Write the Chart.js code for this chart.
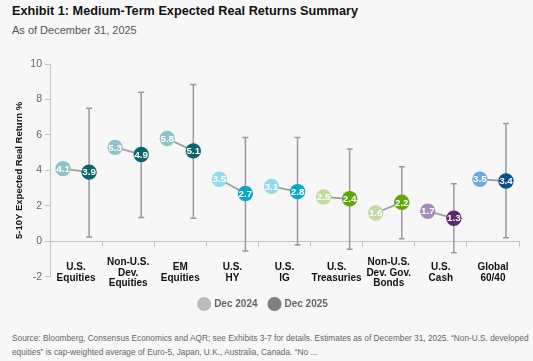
<!DOCTYPE html>
<html>
<head>
<meta charset="utf-8">
<script src="https://cdn.jsdelivr.net/npm/chart.js@4/dist/chart.umd.min.js"></script>
<style>
  html, body { margin: 0; padding: 0; background: #f7f7f7; }
  body { width: 533px; height: 361px; position: relative; overflow: hidden; font-family: "Liberation Sans", Arial, sans-serif; }
  #titulo { position: absolute; left: 12px; top: 4px; font-size: 12.7px; font-weight: bold; color: #111; }
  #subtitulo { position: absolute; left: 12px; top: 24px; font-size: 11px; color: #555; }
  #wrap { position: absolute; left: 0; top: 45px; width: 533px; height: 280px; }
  #nota { position: absolute; left: 12px; top: 332px; width: 515px; font-size: 8.3px; line-height: 13.5px; color: #666; white-space: nowrap; }
</style>
</head>
<body>
<div id="titulo">Exhibit 1: Medium-Term Expected Real Returns Summary</div>
<div id="subtitulo">As of December 31, 2025</div>
<div id="wrap"><canvas id="grafico"></canvas></div>
<div id="nota">Source: Bloomberg, Consensus Economics and AQR; see Exhibits 3-7 for details. Estimates as of December 31, 2025. “Non-U.S. developed<br>equities” is cap-weighted average of Euro-5, Japan, U.K., Australia, Canada. “No ...</div>

<script>
// --- datos ---
const categorias = [
    ['U.S.', 'Equities'],
    ['Non-U.S.', 'Dev.', 'Equities'],
    ['EM', 'Equities'],
    ['U.S.', 'HY'],
    ['U.S.', 'IG'],
    ['U.S.', 'Treasuries'],
    ['Non-U.S.', 'Dev. Gov.', 'Bonds'],
    ['U.S.', 'Cash'],
    ['Global', '60/40']
];
const dic2024 = [4.1, 5.3, 5.8, 3.5, 3.1, 2.5, 1.6, 1.7, 3.5];
const dic2025 = [3.9, 4.9, 5.1, 2.7, 2.8, 2.4, 2.2, 1.3, 3.4];
const rangoAlto = [7.5, 8.4, 8.85, 5.85, 5.85, 5.2, 4.2, 3.25, 6.65];
const rangoBajo = [0.25, 1.35, 1.3, -0.55, -0.2, -0.45, 0.15, -0.65, 0.2];
const ticksY = [-2, 0, 2, 4, 6, 8, 10];

const coloresClaros = ['#8ec3c9', '#8ec3c9', '#8ec3c9', '#92dbe9', '#92dbe9', '#c0dca0', '#c0dca0', '#a58db8', '#6ea9dd'];
const coloresOscuros = ['#0a6470', '#0a6470', '#0a6470', '#0aa8c8', '#0aa8c8', '#5fa60a', '#5fa60a', '#5a2a6c', '#0b4f8e'];

const desfase = 0.25;

// segmentos grises entre los dos puntos de cada categoría
const conectores = [];
dic2024.forEach((v, i) => {
    conectores.push({ x: i - desfase, y: v });
    conectores.push({ x: i + desfase, y: dic2025[i] });
    conectores.push({ x: i, y: null });
});

// barras de rango sobre los puntos de Dec 2025
const pluginRangos = {
    id: 'rangos',
    beforeDatasetsDraw(chart) {
        const { ctx } = chart;
        const sx = chart.scales.x2, sy = chart.scales.y;
        ctx.save();
        ctx.strokeStyle = '#9a9a9a';
        ctx.lineWidth = 1.5;
        rangoAlto.forEach((alto, i) => {
            const px = sx.getPixelForValue(i + desfase);
            const y1 = sy.getPixelForValue(alto);
            const y2 = sy.getPixelForValue(rangoBajo[i]);
            ctx.beginPath();
            ctx.moveTo(px, y1); ctx.lineTo(px, y2);
            ctx.moveTo(px - 3, y1); ctx.lineTo(px + 3, y1);
            ctx.moveTo(px - 3, y2); ctx.lineTo(px + 3, y2);
            ctx.stroke();
        });
        ctx.restore();
    }
};

// valores dentro de los círculos
const pluginEtiquetas = {
    id: 'etiquetas',
    afterDatasetsDraw(chart) {
        const { ctx } = chart;
        ctx.save();
        ctx.fillStyle = '#ffffff';
        ctx.font = 'bold 9.8px "Liberation Sans", Arial, sans-serif';
        ctx.textAlign = 'center';
        ctx.textBaseline = 'middle';
        [1, 2].forEach(idx => {
            const meta = chart.getDatasetMeta(idx);
            const valores = chart.data.datasets[idx].data;
            meta.data.forEach((pt, i) => {
                ctx.fillText(valores[i].y.toFixed(1), pt.x, pt.y + 0.5);
            });
        });
        ctx.restore();
    }
};

const ctx = document.getElementById('grafico');
new Chart(ctx, {
    type: 'scatter',
    data: {
        labels: categorias,
        datasets: [
            {
                type: 'line',
                label: 'conector',
                data: conectores,
                xAxisID: 'x2',
                borderColor: '#a0a0a0',
                borderWidth: 1.8,
                pointRadius: 0,
                spanGaps: false,
                order: 3
            },
            {
                label: 'Dec 2024',
                data: dic2024.map((v, i) => ({ x: i - desfase, y: v })),
                xAxisID: 'x2',
                backgroundColor: coloresClaros,
                borderColor: coloresClaros,
                pointRadius: 7.7,
                pointHoverRadius: 7.7,
                borderWidth: 0,
                order: 2
            },
            {
                label: 'Dec 2025',
                data: dic2025.map((v, i) => ({ x: i + desfase, y: v })),
                xAxisID: 'x2',
                backgroundColor: coloresOscuros,
                borderColor: coloresOscuros,
                pointRadius: 7.7,
                pointHoverRadius: 7.7,
                borderWidth: 0,
                order: 1
            }
        ]
    },
    options: {
        responsive: true,
        maintainAspectRatio: false,
        animation: false,
        layout: { padding: { top: 19, left: 8, right: 14, bottom: 6 } },
        plugins: {
            tooltip: { enabled: false },
            legend: {
                position: 'bottom',
                // título vacío: solo para bajar la leyenda sin separar los elementos
                title: { display: true, text: ' ', font: { size: 1 }, padding: { top: 5, bottom: 4 } },
                labels: {
                    usePointStyle: true,
                    pointStyle: 'circle',
                    boxWidth: 10,
                    boxHeight: 10,
                    padding: 12,
                    color: '#111',
                    font: { family: '"Liberation Sans", Arial, sans-serif', size: 10, weight: 'bold' },
                    generateLabels: () => [
                        { text: 'Dec 2024', fillStyle: '#bdbdbd', strokeStyle: '#bdbdbd', lineWidth: 0, pointStyle: 'circle', datasetIndex: 1 },
                        { text: 'Dec 2025', fillStyle: '#808080', strokeStyle: '#808080', lineWidth: 0, pointStyle: 'circle', datasetIndex: 2 }
                    ]
                }
            }
        },
        scales: {
            x: {
                type: 'category',
                position: { y: 0 },
                offset: true,
                grid: { offset: true, drawOnChartArea: false, drawTicks: true, tickLength: 5, color: '#c4c4c4' },
                border: { color: '#c4c4c4', width: 1 },
                ticks: {
                    padding: 16,
                    color: '#111',
                    crossAlign: 'center',
                    maxRotation: 0,
                    autoSkip: false,
                    font: { family: '"Liberation Sans", Arial, sans-serif', size: 10, weight: 'bold', lineHeight: 1.05 }
                }
            },
            x2: {
                type: 'linear',
                display: false,
                min: -0.5,
                max: 8.5
            },
            y: {
                min: -2,
                max: 10,
                afterBuildTicks: (s) => { s.ticks = ticksY.map(v => ({ value: v })); },
                afterFit: (s) => { s.width = 42; },
                grid: { drawOnChartArea: false, drawTicks: true, tickLength: 5, color: '#c4c4c4' },
                border: { color: '#c4c4c4', width: 1 },
                ticks: {
                    padding: 3,
                    color: '#666',
                    font: { family: '"Liberation Sans", Arial, sans-serif', size: 10.5 }
                },
                title: {
                    display: true,
                    text: '5-10Y Expected Real Return %',
                    color: '#111',
                    padding: { top: 6, bottom: 0 },
                    font: { family: '"Liberation Sans", Arial, sans-serif', size: 9.5, weight: 'bold' }
                }
            }
        }
    },
    plugins: [pluginRangos, pluginEtiquetas]
});
</script>
</body>
</html>
